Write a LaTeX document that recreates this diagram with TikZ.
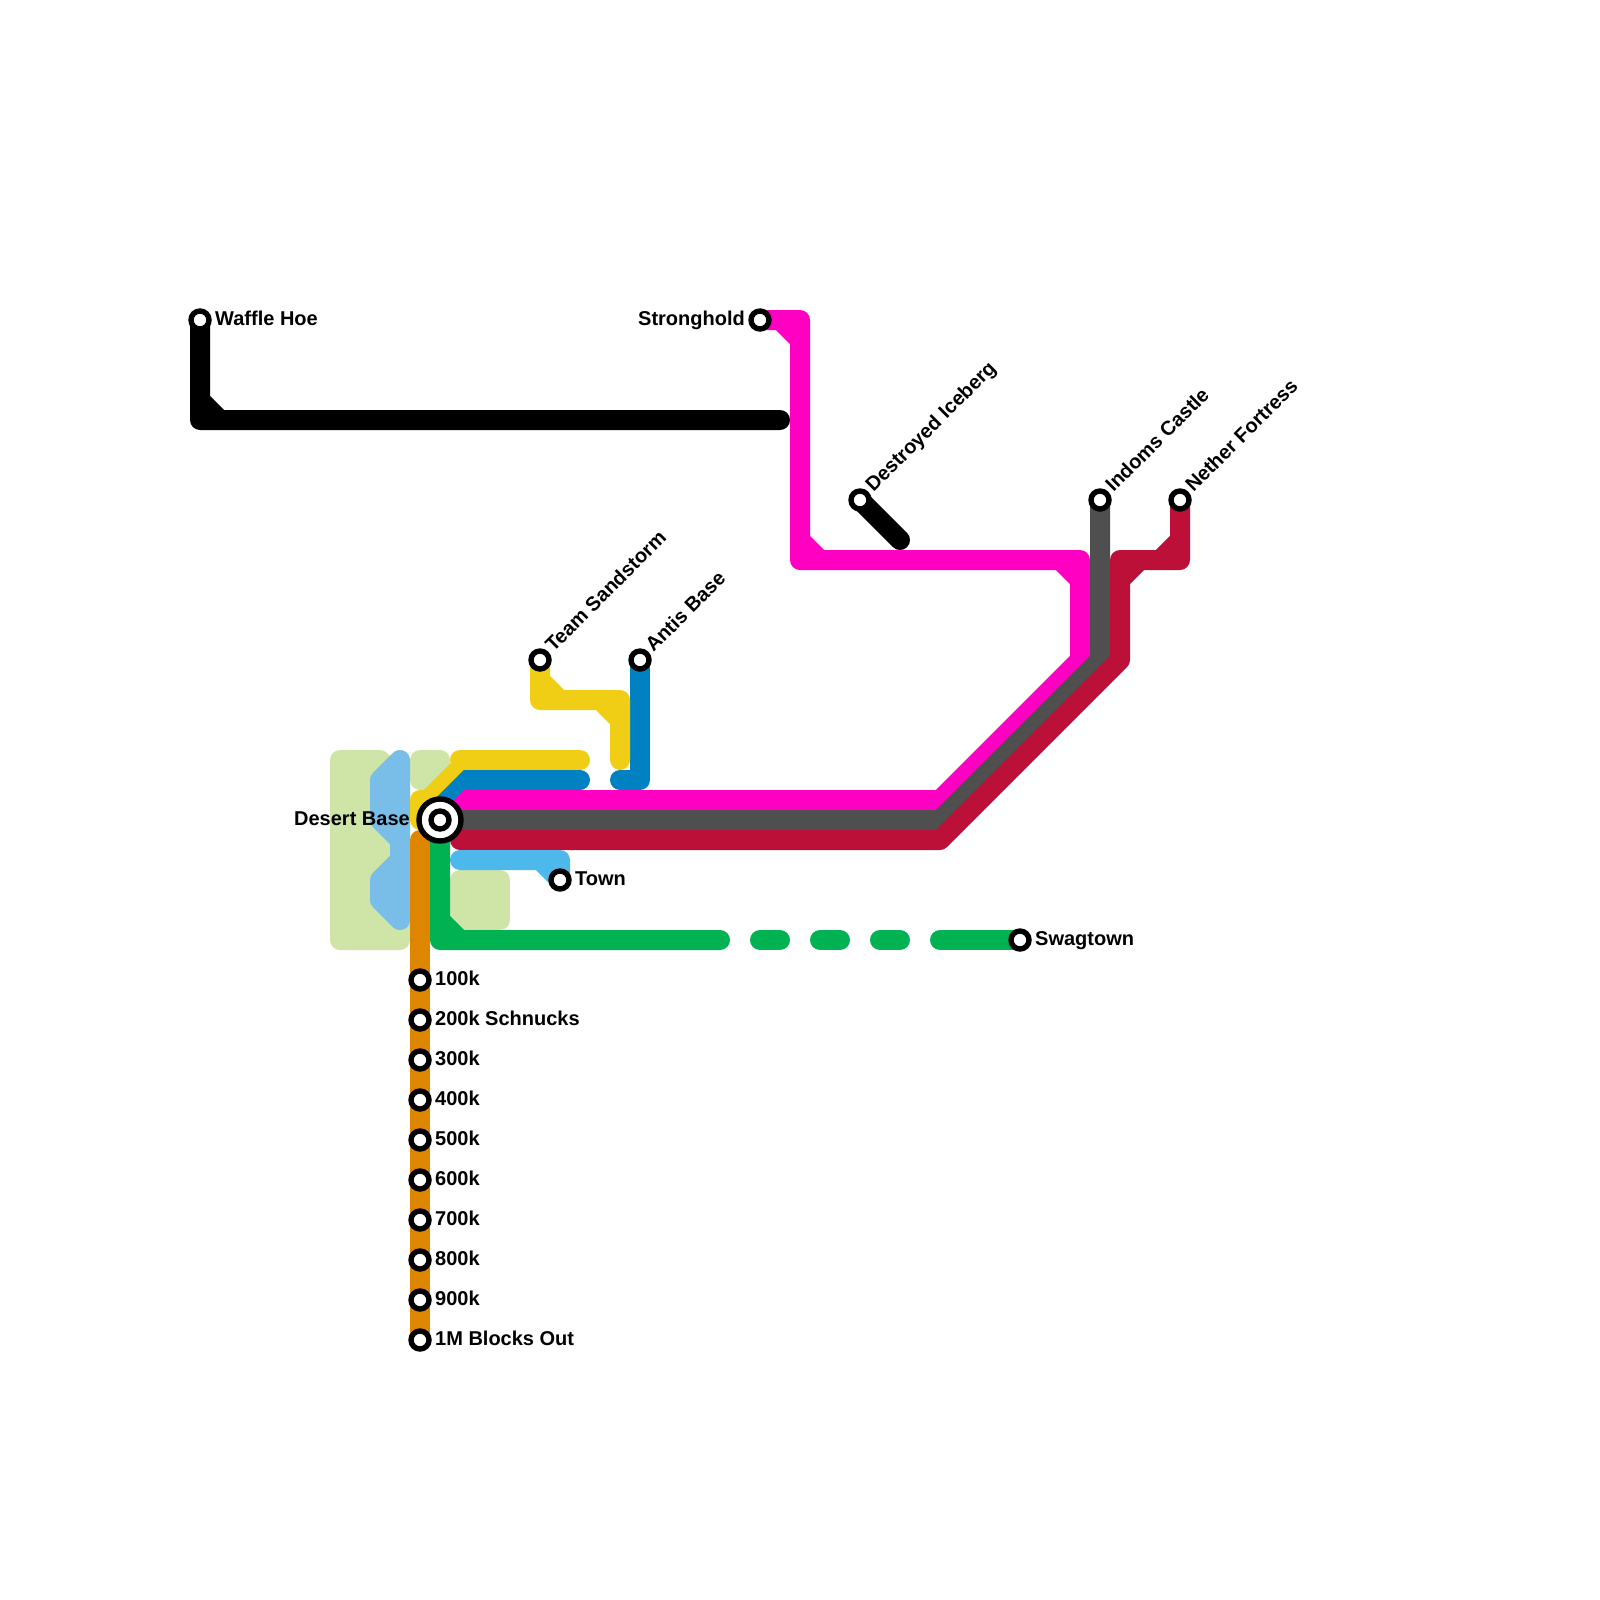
\documentclass[tikz,border=0pt]{standalone}
\usepackage{fontspec}
\usetikzlibrary{backgrounds}
\setmainfont{Liberation Sans}

\definecolor{parkgreen}{HTML}{CFE4A7}
\definecolor{pondblue}{HTML}{79BDE9}
\definecolor{linepink}{HTML}{FF00C3}
\definecolor{linegrey}{HTML}{4F4F4F}
\definecolor{linered}{HTML}{BD1038}
\definecolor{lineyellow}{HTML}{F0CE15}
\definecolor{lineblue}{HTML}{0081C2}
\definecolor{linesky}{HTML}{4DB8EC}
\definecolor{linegreen}{HTML}{00B251}
\definecolor{lineorange}{HTML}{DF8600}

\tikzset{
	trackline/.style = {line width = 20pt, line cap = round, line join = round},
	blob/.style = {draw = #1, fill = #1, line width = 20pt, line join = round},
	stop/.style = {circle, draw, fill = white, line width = 5.4pt, minimum size = 18pt, inner sep = 0pt, outer sep = 0pt},
	hub/.style = {circle, draw, fill = white, line width = 5.4pt, minimum size = 42pt, inner sep = 0pt, outer sep = 0pt},
	lbl/.style = {font = \bfseries\fontsize{20}{22}\selectfont, inner sep = 0pt, anchor = base west},
	lblleft/.style = {font = \bfseries\fontsize{20}{22}\selectfont, inner sep = 0pt, anchor = base east},
	lbldiag/.style = {lbl, rotate = 45}
}

\begin{document}
\begin{tikzpicture}[x = 1pt, y = -1pt]
	\useasboundingbox (0,0) rectangle (1600,1600);

	\draw (200,320) node[stop] (waffle) {};
	\draw (760,320) node[stop] (stronghold) {};
	\draw (860,500) node[stop] (iceberg) {};
	\draw (1100,500) node[stop] (indoms) {};
	\draw (1180,500) node[stop] (nether) {};
	\draw (540,660) node[stop] (sandstorm) {};
	\draw (640,660) node[stop] (antis) {};
	\draw (560,880) node[stop] (town) {};
	\draw (1020,940) node[stop] (swagtown) {};
	\draw (440,820) node[hub] (desert) {};
	\draw (440,820) node[stop] (desertin) {};

	\draw (420,980) node[stop] (k100) {};
	\draw (420,1020) node[stop] (k200) {};
	\draw (420,1060) node[stop] (k300) {};
	\draw (420,1100) node[stop] (k400) {};
	\draw (420,1140) node[stop] (k500) {};
	\draw (420,1180) node[stop] (k600) {};
	\draw (420,1220) node[stop] (k700) {};
	\draw (420,1260) node[stop] (k800) {};
	\draw (420,1300) node[stop] (k900) {};
	\draw (420,1340) node[stop] (k1000) {};

	\coordinate (icebergend) at (900,540);
	\coordinate (blacktail) at (780,420);
	\coordinate (orangetop) at (420,840);
	\coordinate (yellowtail) at (580,760);
	\coordinate (bluetail) at (580,780);
	\coordinate (antisfoot) at (620,780);
	\coordinate (sandfoot) at (620,760);
	\coordinate (skytail) at (460,860);
	\coordinate (pinkend) at (450,818);
	\coordinate (greyend) at (460,820);
	\coordinate (redend) at (460,840);
	\coordinate (greenend) at (720,940);
	\coordinate (gapstart) at (760,940);
	\coordinate (gapend) at (900,940);
	\coordinate (swagstart) at (940,940);

	\begin{pgfonlayer}{background}
		\draw [blob = parkgreen] (340,760) -- (380,760) -- (400,780) -- (400,940) -- (340,940) -- cycle;
		\draw [blob = parkgreen] (420,760) -- (440,760) -- (440,780) -- (420,780) -- cycle;
		\draw [blob = parkgreen] (460,880) -- (500,880) -- (500,920) -- (460,920) -- cycle;
		\draw [blob = pondblue] (400,760) -- (380,780) -- (380,820) -- (400,840) -- (400,860) -- (380,880) -- (380,900) -- (400,920) -- cycle;

		\draw [trackline, black] (waffle.center) -- (200,420) -- (blacktail) (200,400) -- (220,420);
		\draw [trackline, black] (iceberg.center) -- (icebergend);

		\draw [trackline, lineyellow] (420,820) -- (420,800) -- (428,800) -- (468,760) -- (yellowtail) (460,760) -- (480,760);
		\draw [trackline, lineblue, line join = miter] (440,808) -- (468,780) -- (bluetail);
		\draw [trackline, lineblue] (antis.center) -- (640,780) -- (antisfoot);
		\draw [trackline, lineyellow] (sandstorm.center) -- (540,700) -- (620,700) -- (sandfoot) (540,680) -- (560,700) (600,700) -- (620,720);

		\draw [trackline, linepink] (stronghold.center) -- (800,320) -- (800,560) -- (1080,560) -- (1080,660) -- (940,800) -- (500,800) (780,320) -- (800,340) (800,540) -- (820,560) (1060,560) -- (1080,580);
		\draw [trackline, linepink, line join = miter] (500,800) -- (468,800) -- (pinkend);
		\draw [trackline, linegrey] (indoms.center) -- (1100,660) -- (940,820) -- (greyend);
		\draw [trackline, linered] (nether.center) -- (1180,560) -- (1120,560) -- (1120,660) -- (940,840) -- (redend) (1180,540) -- (1160,560) (1140,560) -- (1120,580);

		\draw [trackline, linesky] (skytail) -- (560,860) -- (town.center) (540,860) -- (560,880);
		\draw [trackline, linegreen] (desert.center) -- (440,940) -- (greenend) (440,920) -- (460,940);
		\draw [trackline, linegreen, dash pattern = on 20pt off 40pt] (gapstart) -- (gapend);
		\draw [trackline, linegreen] (swagstart) -- (swagtown.center);
		\draw [trackline, lineorange] (orangetop) -- (k1000.center);
	\end{pgfonlayer}

	\draw (215,325.5) node[lbl] (wafflelbl) {Waffle Hoe};
	\draw (745,325.5) node[lblleft] (strongholdlbl) {Stronghold};
	\draw (410,825.5) node[lblleft] (desertlbl) {Desert Base};
	\draw (575,885.5) node[lbl] (townlbl) {Town};
	\draw (1035,945.5) node[lbl] (swagtownlbl) {Swagtown};
	\draw (873.5,493) node[lbldiag] (iceberglbl) {Destroyed Iceberg};
	\draw (1113.5,493) node[lbldiag] (indomslbl) {Indoms Castle};
	\draw (1193.5,493) node[lbldiag] (netherlbl) {Nether Fortress};
	\draw (553.5,653) node[lbldiag] (sandstormlbl) {Team Sandstorm};
	\draw (653.5,653) node[lbldiag] (antislbl) {Antis Base};

	\draw (435,985.5) node[lbl] (k100lbl) {100k};
	\draw (435,1025.5) node[lbl] (k200lbl) {200k Schnucks};
	\draw (435,1065.5) node[lbl] (k300lbl) {300k};
	\draw (435,1105.5) node[lbl] (k400lbl) {400k};
	\draw (435,1145.5) node[lbl] (k500lbl) {500k};
	\draw (435,1185.5) node[lbl] (k600lbl) {600k};
	\draw (435,1225.5) node[lbl] (k700lbl) {700k};
	\draw (435,1265.5) node[lbl] (k800lbl) {800k};
	\draw (435,1305.5) node[lbl] (k900lbl) {900k};
	\draw (435,1345.5) node[lbl] (k1000lbl) {1M Blocks Out};
\end{tikzpicture}
\end{document}
